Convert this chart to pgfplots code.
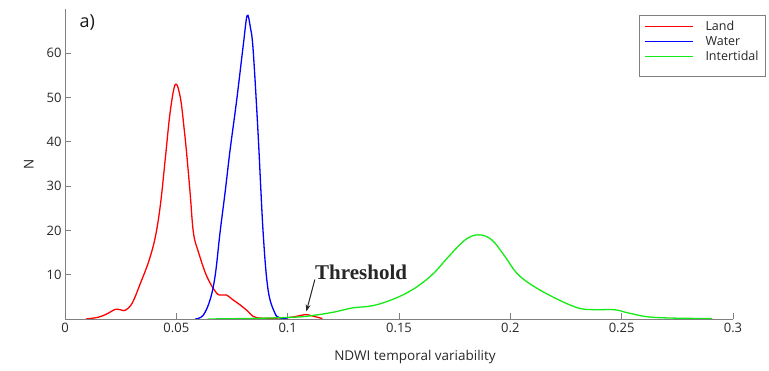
\documentclass[border=0pt]{standalone}
\usepackage{fontspec}
\setmainfont{Open Sans}
\newfontfamily\thr{Liberation Serif}
\usepackage{pgfplots}
\pgfplotsset{compat=1.18}
\usetikzlibrary{arrows.meta}
\definecolor{axgray}{RGB}{128,128,128}
\definecolor{txt}{RGB}{40,40,40}
\definecolor{landred}{RGB}{255,0,0}
\definecolor{waterblue}{RGB}{0,0,255}
\definecolor{intgreen}{RGB}{20,235,20}
\begin{document}
\begin{tikzpicture}[x=1pt,y=1pt]
\begin{axis}[
  at={(0,0)}, anchor=south west,
  scale only axis, width=668pt, height=310pt,
  xmin=0, xmax=0.3, ymin=0, ymax=70,
  axis lines*=left,
  axis line style={axgray, line width=0.8pt},
  tick align=inside,
  major tick length=6pt,
  tick style={axgray, line width=0.8pt},
  xtick={0,0.05,0.1,0.15,0.2,0.25,0.3},
  xticklabels={0,0.05,0.1,0.15,0.2,0.25,0.3},
  ytick={10,20,30,40,50,60},
  /pgf/number format/assume math mode=true,
  tick label style={font=\fontsize{13}{15}\selectfont, text=txt},
  xticklabel style={yshift=-1pt},
  xlabel={NDWI temporal variability},
  ylabel={N},
  label style={font=\fontsize{13.5}{15}\selectfont, text=txt},
  xlabel style={yshift=-10pt, xshift=16pt},
  ylabel style={yshift=6pt},
  legend style={at={(rel axis cs:0.859,0.981)}, anchor=north west, draw=axgray, line width=0.8pt,
    font=\fontsize{12.5}{15}\selectfont, text=txt, inner xsep=5pt, inner ysep=4pt,
    legend cell align=left, row sep=0pt,
    /tikz/every odd column/.append style={column sep=10pt}},
  legend image code/.code={\draw[#1, line width=1.3pt] (0pt,0pt) -- (48pt,0pt);},
  every axis plot/.append style={line width=1.3pt, smooth, tension=0.6},
]
\addplot[landred] coordinates {
(0.0094,0) (0.015,0.4) (0.019,1.2) (0.0228,2.2) (0.0255,2.0) (0.0272,2.0) (0.0302,3.6)
(0.0339,8.1) (0.0376,13) (0.0406,18.6) (0.0429,26) (0.0451,36.5) (0.0473,47) (0.0496,53)
(0.0518,50) (0.0535,43) (0.0548,36.5) (0.0562,28.4) (0.0577,19.4) (0.060,15) (0.0637,9.6)
(0.068,5.9) (0.0705,5.4) (0.0726,5.4) (0.0755,4.3) (0.0786,3.2) (0.082,1.8) (0.0845,0.6)
(0.088,0.2) (0.095,0.2) (0.100,0.3) (0.104,0.6) (0.108,1.0) (0.111,0.7) (0.1156,0.1)
};
\addlegendentry{Land}
\addplot[waterblue] coordinates {
(0.0585,0) (0.062,0.8) (0.0652,4.4) (0.0675,10) (0.0696,19.4) (0.072,29) (0.0741,38)
(0.0771,49.4) (0.0801,62) (0.0818,68.5) (0.0832,66) (0.0845,60.7) (0.0867,42) (0.089,19.4)
(0.0912,6.6) (0.0942,1.4) (0.0964,0.3) (0.1,0)
};
\addlegendentry{Water}
\addplot[intgreen] coordinates {
(0.064,0) (0.08,0.1) (0.09,0.2) (0.1,0.35) (0.1083,0.6) (0.1202,1.5) (0.1291,2.5)
(0.1381,3.0) (0.147,4.4) (0.156,6.6) (0.1649,10) (0.1723,14.1) (0.1798,17.9) (0.1857,19)
(0.1916,17.9) (0.1976,14.1) (0.2028,10.4) (0.2095,7.7) (0.22,4.75) (0.2304,2.5)
(0.2378,2.1) (0.2467,2.1) (0.2527,1.4) (0.2616,0.5) (0.2735,0.2) (0.2906,0.1)
};
\addlegendentry{Intertidal}
\addlegendimage{empty legend}
\addlegendentry{\rule{0pt}{3pt}}
\node[font=\thr\bfseries\fontsize{21}{23}\selectfont, text=black!85] at (axis cs:0.133,10.45) {Threshold};
\draw[-{Stealth[length=7pt,width=5pt]}, line width=1pt, black!85] (axis cs:0.1122,8.9) -- (axis cs:0.1084,1.7);
\node[anchor=west, font=\fontsize{18}{20}\selectfont, text=black!90] at (rel axis cs:0.0165,0.955) {a)};
\end{axis}
\path[use as bounding box] (-65,-52) rectangle (704,319);
\end{tikzpicture}
\end{document}
